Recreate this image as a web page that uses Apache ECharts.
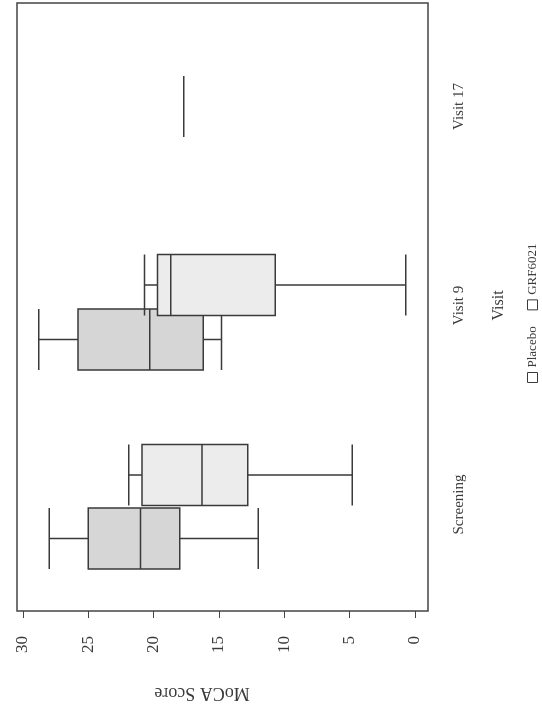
<!DOCTYPE html>
<html>
<head>
<meta charset="utf-8" />
<script src="https://cdn.jsdelivr.net/npm/echarts@6/dist/echarts.min.js"></script>
<style>
	html, body { margin: 0; padding: 0; background: #fff; overflow: hidden; }
	/* the scanned figure is turned a quarter turn, so the chart is drawn upright and rotated */
	#chart {
		position: absolute; left: 0; top: 0;
		width: 719px; height: 542px;
		transform-origin: 0 0;
		transform: translate(0, 719px) rotate(-90deg);
	}
</style>
</head>
<body>
<div id="chart"></div>
<script>
	// data: [min, Q1, median, Q3, max]
	var visits = ['Screening', 'Visit 9', 'Visit 17'];
	var placeboBox = [[12, 18, 21, 25, 28], [14.8, 16.2, 20.3, 25.8, 28.8], '-'];
	var grfBox = [[4.8, 12.8, 16.3, 20.9, 21.9], [0.7, 10.7, 18.7, 19.7, 20.7], '-'];
	var grfLateBox = ['-', '-', [17.7, 17.7, 17.7, 17.7, 17.7]];
	var scoreMin = 0, scoreMax = 30, scoreStep = 5;
	var seriesNames = ['Placebo', 'GRF6021'];

	var font = "'Liberation Serif', 'DejaVu Serif', serif";
	var ink = '#3a3a3a';

	var chart = echarts.init(document.getElementById('chart'));

	function hiddenCat(i) {
		return { type: 'category', gridIndex: i, data: visits, show: false };
	}
	function hiddenVal(i) {
		return { type: 'value', gridIndex: i, min: scoreMin, max: scoreMax, show: false };
	}
	function box(name, data, axis, fill) {
		return {
			name: name,
			type: 'boxplot',
			xAxisIndex: axis,
			yAxisIndex: axis,
			data: data,
			boxWidth: [61, 61],
			itemStyle: { color: fill, borderColor: ink, borderWidth: 1.5 },
			emphasis: { disabled: true }
		};
	}

	var option = {
		animation: false,
		textStyle: { fontFamily: font },
		legend: {
			data: seriesNames,
			left: 336,
			bottom: 3,
			padding: 0,
			icon: 'rect',
			itemWidth: 10,
			itemHeight: 10,
			itemGap: 16,
			itemStyle: { color: '#fff', borderColor: ink, borderWidth: 1 },
			textStyle: { fontFamily: font, fontSize: 13, color: ink }
		},
		grid: [
			// frame
			{ left: 108, right: 3, top: 17, bottom: 114, show: true, borderColor: '#444', borderWidth: 1.5, backgroundColor: 'transparent' },
			// visible axes
			{ left: 115, right: 7, top: 23, bottom: 127 },
			// placebo boxes sit left of the visit
			{ left: 81, right: 41, top: 23, bottom: 127 },
			// GRF6021 boxes sit right of the visit
			{ left: 149, right: -27, top: 23, bottom: 127 }
		],
		xAxis: [
			{ type: 'value', gridIndex: 0, show: false },
			{
				type: 'category', gridIndex: 1, data: visits,
				offset: 13,
				name: 'Visit', nameLocation: 'middle', nameGap: 63,
				nameTextStyle: { fontFamily: font, fontSize: 16, color: ink },
				axisLine: { show: false },
				axisTick: { alignWithLabel: true, length: 4, lineStyle: { color: '#444' } },
				axisLabel: { margin: 24, fontFamily: font, fontSize: 15, color: ink }
			},
			hiddenCat(2),
			hiddenCat(3)
		],
		yAxis: [
			{ type: 'value', gridIndex: 0, show: false },
			{
				type: 'value', gridIndex: 1,
				min: scoreMin, max: scoreMax, interval: scoreStep,
				offset: 7,
				name: 'MoCA Score', nameLocation: 'middle', nameGap: 73,
				nameTextStyle: { fontFamily: font, fontSize: 18, color: ink, padding: [0, 0, 0, 34] },
				axisLine: { show: false },
				axisTick: { show: true, length: 7, lineStyle: { color: '#444' } },
				splitLine: { show: false },
				axisLabel: { margin: 25, fontFamily: font, fontSize: 17, color: ink }
			},
			hiddenVal(2),
			hiddenVal(3)
		],
		series: [
			box(seriesNames[0], placeboBox, 2, '#d6d6d6'),
			box(seriesNames[1], grfBox, 3, '#ececec'),
			box(seriesNames[1], grfLateBox, 1, '#ececec')
		]
	};

	chart.setOption(option);
</script>
</body>
</html>
